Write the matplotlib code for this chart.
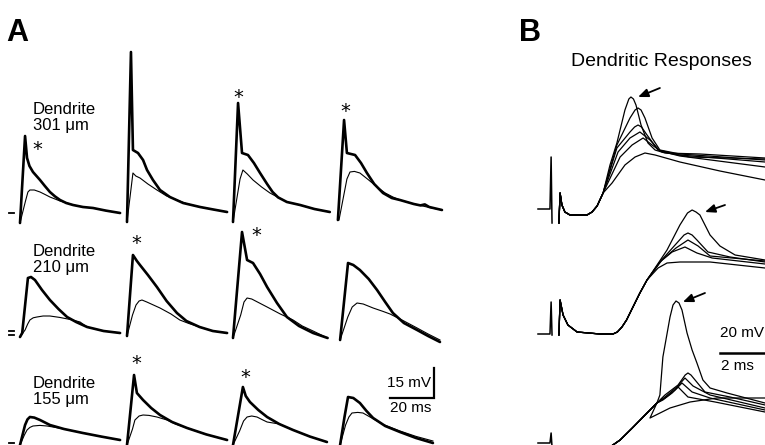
import numpy as np
import matplotlib
matplotlib.use("Agg")
import matplotlib.pyplot as plt

plt.rcParams["font.family"] = ["Liberation Sans", "DejaVu Sans"]

# ---- panel A: dendritic recordings, (ms, mV) relative to stimulus onset / baseline ----
# row 301 um
d301_c1_thick = [(0, -5), (2.3, 38.5), (3.2, 27.5), (4.3, 23.5), (5.9, 20.5), (7.5, 18.5),
                 (9.1, 16.5), (11.3, 13.5), (13.6, 10.5), (15.9, 8.3), (18.2, 6.5),
                 (21, 5), (24.1, 4), (28.6, 3), (33.2, 2.5), (39, 1.2), (45.5, 0)]
d301_c1_thin = [(0, -5), (2.5, 6), (3.6, 10.5), (4.5, 11.5), (6.5, 11.5), (9.1, 10.5),
                (11.3, 9.3), (13.6, 8), (18.2, 6), (21.4, 5), (24.1, 4), (28.6, 3),
                (33.2, 2.5), (39, 1.2), (45.5, 0)]
d301_c2_thick = [(0, -4.5), (1.8, 80.5), (2.7, 31.5), (5, 30), (7.3, 26.5), (9.1, 21.5),
                 (11.8, 16.5), (15, 11.5), (19.5, 8), (25.5, 5), (33.2, 3), (39, 1.8),
                 (45.5, 0.5)]
d301_c2_thin = [(0, -4.5), (2.7, 20), (4, 18.5), (5.9, 17.5), (9.5, 14.5), (13.6, 11.5),
                (18, 8.5), (22.7, 6.5), (27.5, 4.5), (33.2, 3), (39, 1.8), (45.5, 0.5)]
d301_c3_thick = [(0, -4.5), (2.3, 55), (4.1, 30), (6.8, 29), (9.5, 25), (12.3, 20),
                 (15.5, 14.5), (18, 10.5), (20.5, 7.8), (24.5, 5.5), (30.5, 4), (37, 2),
                 (44, 0.5)]
d301_c3_thin = [(0, -4.5), (3.2, 17), (4.5, 21.5), (6.5, 19.5), (9.1, 16.5), (13, 13),
                (16.8, 10), (20.5, 7.8), (24.5, 5.5), (30.5, 4), (37, 2), (44, 0.5)]
d301_c4_thick = [(-0.5, -3.5), (2.3, 46.5), (3.6, 30), (7.3, 29), (10, 25), (12.7, 20),
                 (16, 14.5), (20, 10), (24, 7.5), (27.7, 6.5), (34, 4.5), (37, 3.8),
                 (39, 4.3), (41, 3), (46.8, 1.5)]
d301_c4_thin = [(0, -3.5), (3.6, 17), (5, 20.5), (7, 20.8), (9.5, 20), (13.5, 16.5),
                (17.3, 13), (21, 10), (24.5, 8), (27.7, 6.5), (34, 4.5), (40, 3),
                (46.8, 1.5)]

# row 210 um
d210_c1_thick = [(0, -2), (1, 0), (3.6, 27.5), (5, 28), (6.8, 26.5), (10, 21.5),
                 (13.6, 16.5), (17.5, 12), (21.4, 8), (25.5, 5.5), (30.5, 3), (38, 1),
                 (45.5, 0)]
d210_c1_thin = [(0, -2), (2.3, 1.5), (3.5, 4.5), (4.5, 6.5), (6, 7.6), (7.7, 8),
                (10.5, 8.5), (13.6, 8.5), (18, 7.8), (24, 6.5), (27.3, 5.5), (30.5, 3),
                (38, 1), (45.5, 0)]
d210_c2_thick = [(0, -1.5), (2.7, 39), (4.5, 36), (5.9, 34), (9.5, 29), (13.6, 23),
                 (18, 16), (22.7, 10), (27, 6), (33, 3), (39, 1), (45.5, 0)]
d210_c2_thin = [(0, -1.5), (2.5, 9), (4.1, 14), (5.5, 16), (6.8, 16.5), (9, 15.5),
                (15, 12.5), (20, 9.5), (24, 6.5), (28, 4.8), (33, 3), (39, 1), (45.5, 0)]
d210_c3_thick = [(0, -2.5), (4.1, 50.5), (6.4, 36.5), (9.1, 35), (12.3, 29.5),
                 (15.5, 23), (20, 15), (24.5, 8), (30, 3.5), (36.4, 0), (43, -2.5)]
d210_c3_thin = [(0, -2.5), (3.5, 9), (5, 15.5), (6.4, 17.5), (8.5, 17), (15.5, 13),
                (21.5, 9.5), (27.3, 6.5), (31.5, 3.5), (36.4, 1), (43, -2.5)]
d210_c4_thick = [(0.5, -3.5), (4.1, 35), (6.5, 34), (9.5, 31.5), (13.5, 27), (17.3, 21.5),
                 (21, 15.5), (24.5, 10), (29.5, 5), (35.5, 1.5), (40.5, -1.5),
                 (45.9, -4.5)]
d210_c4_thin = [(0.5, -3.5), (4, 8), (6, 13), (8.2, 15), (11, 14.5), (15.5, 12.5),
                (20, 10.8), (23.2, 9.5), (29.5, 6), (35.5, 2.5), (40.5, -0.5),
                (45.9, -3.5)]

# row 155 um
d155_c1_thick = [(0, -1), (2.3, 9), (3.4, 11.8), (4.5, 13), (6.5, 12.7), (9.1, 11.5),
                 (13.6, 9), (20, 7), (28.6, 5), (37, 3.2), (45.5, 1.5)]
d155_c1_thin = [(0, -1), (2, 4), (3.2, 6.5), (4.5, 7.8), (5.9, 8.5), (9, 8.8),
                (12.3, 8.5), (15, 8), (20, 7), (28.6, 5), (37, 3.2), (45.5, 1.5)]
d155_c2_thick = [(0, -1), (3.2, 34), (4.5, 25), (7.3, 21.5), (11, 17.5), (15, 14),
                 (20.5, 10.5), (27.3, 7.5), (36, 4.3), (45.5, 1.5)]
d155_c2_thin = [(0, -1), (2.5, 7), (3.6, 11.5), (5.5, 13.5), (7.3, 14), (10, 13.8),
                (13.6, 13), (18.2, 11.5), (22, 9.5), (27.3, 7.5), (36, 4.3), (45.5, 1.5)]
d155_c3_thick = [(0, -1), (4.5, 28), (5.8, 23.5), (7.7, 20.5), (11.5, 16.5), (15.5, 13),
                 (21, 9.5), (27.3, 6.5), (35, 3.2), (42.7, 0.5)]
d155_c3_thin = [(0, -1), (3, 6), (4.8, 11), (6.4, 13), (8.5, 13.5), (10.9, 13),
                (13.6, 11.5), (15.5, 10.5), (21, 9.5), (27.3, 6.5), (35, 3.2), (42.7, 0.5)]
d155_c4_thick = [(0.5, -1), (2.5, 13), (4.1, 23), (6.5, 22.5), (9.5, 20), (12.5, 16),
                 (15.5, 12.5), (21, 8.5), (27.7, 5.5), (35, 2.5), (42.7, 0)]
d155_c4_thin = [(0.5, -1), (3, 9), (4.5, 13), (5.9, 15), (8.5, 15.3), (10.9, 15),
                (14.1, 13), (20, 9.3), (27.7, 6), (35, 3.3), (42.7, 1)]

rows_A = [
    [(d301_c1_thick, d301_c1_thin), (d301_c2_thick, d301_c2_thin),
     (d301_c3_thick, d301_c3_thin), (d301_c4_thick, d301_c4_thin)],
    [(d210_c1_thick, d210_c1_thin), (d210_c2_thick, d210_c2_thin),
     (d210_c3_thick, d210_c3_thin), (d210_c4_thick, d210_c4_thin)],
    [(d155_c1_thick, d155_c1_thin), (d155_c2_thick, d155_c2_thin),
     (d155_c3_thick, d155_c3_thin), (d155_c4_thick, d155_c4_thin)],
]
row_labels = ["Dendrite\n301 \u03bcm", "Dendrite\n210 \u03bcm", "Dendrite\n155 \u03bcm"]
# traces with an asterisk (row, col)
star_cells = [(0, 0), (0, 2), (0, 3), (1, 1), (1, 2), (2, 1), (2, 2)]

# ---- panel B: dendritic responses, (ms, mV) ----
g1_stim = [(0, 0), (0.52, 0), (0.57, 26), (0.61, -7)]
g1_lead = [(0.91, -7), (0.96, 8), (1.04, 2), (1.17, -1.5), (1.39, -3), (2.13, -3),
           (2.35, -1.5), (2.57, 1.5), (2.83, 8)]
g1_tails = [
    [(3.13, 22), (3.43, 33), (3.78, 49.5), (3.95, 55), (4.04, 56), (4.15, 55), (4.26, 52),
     (4.48, 42), (4.78, 33), (5.09, 29.5), (5.52, 28), (7.04, 27.5), (9.87, 25.5)],
    [(3.43, 32), (4, 45.5), (4.22, 49.5), (4.35, 50.5), (4.48, 49.5), (4.65, 45.5),
     (4.96, 35.5), (5.3, 29.5), (6.17, 27.5), (9.87, 24.5)],
    [(3.43, 30.5), (4, 38.5), (4.2, 41), (4.35, 42), (4.5, 41), (4.74, 37), (5.22, 29.5),
     (6.17, 27), (9.87, 23.5)],
    [(3.48, 28.5), (4, 35.5), (4.43, 38.5), (4.87, 34.5), (5.3, 29), (6.17, 26.5), (9.87, 21)],
    [(3.57, 26), (4.09, 32), (4.57, 35.5), (4.96, 32), (5.39, 28.5), (6.61, 26), (9.87, 25)],
    [(3.22, 13), (3.78, 22), (4.22, 26), (4.65, 28), (5.09, 27), (6.17, 23.5), (7.91, 19),
     (9.87, 14.5)],
]

g2_stim = [(0, 0), (0.52, 0), (0.57, 16), (0.61, -0.5)]
g2_lead = [(0.91, -0.5), (0.96, 17), (1.09, 9.5), (1.3, 4.5), (1.7, 1), (2.7, 0), (3.26, 0),
           (3.45, 1), (3.65, 3.5), (3.85, 7), (4, 10.5), (4.43, 20.5), (4.74, 27)]
g2_tails = [
    [(5.09, 33), (5.61, 42), (6.17, 54.5), (6.5, 60.5), (6.7, 62), (6.87, 61), (7.04, 59.5),
     (7.48, 49.5), (7.91, 44), (8.57, 39.5), (9.87, 37)],
    [(5.3, 36), (5.96, 44.5), (6.35, 49.5), (6.52, 50.5), (6.7, 49.5), (6.91, 47),
     (7.39, 41), (8.35, 38.5), (9.87, 36)],
    [(5.39, 37), (6, 43), (6.52, 47), (6.96, 44), (7.48, 39), (9.87, 36.5)],
    [(5.3, 36), (5.83, 41), (6.39, 43.5), (6.91, 40.5), (7.57, 38), (9.87, 35)],
    [(5.22, 33), (5.61, 35.5), (6.17, 36), (7.48, 36), (9.87, 33)],
]

g3_stim = [(0, 0), (0.52, 0), (0.57, 5), (0.61, -2)]
g3_lead = [(3.13, -2), (3.57, 1.5), (4.1, 7.5), (4.57, 13), (5.17, 20)]
g3_tails = [
    [(5.3, 24), (5.43, 43), (5.74, 63), (5.87, 69), (6, 71), (6.13, 70), (6.26, 66.5),
     (6.48, 55), (6.7, 46.5), (6.91, 40), (7.17, 31.5), (7.48, 27.5), (8.22, 25), (9.87, 20)],
    [(5.52, 24), (6.09, 29), (6.4, 34), (6.52, 35), (6.65, 34), (6.83, 31.5), (7.26, 25.5),
     (8.35, 23), (9.87, 19)],
    [(5.52, 23), (6.04, 28), (6.39, 32.5), (6.74, 28.5), (7.48, 24), (9.87, 17.5)],
    [(5.52, 22.5), (5.96, 26.5), (6.26, 30), (6.7, 25.5), (7.48, 22.5), (9.87, 16.5)],
    [(5.43, 21.5), (5.83, 25), (6.09, 28), (6.52, 23), (7.7, 20.5), (9.87, 15.5)],
    [(4.87, 12.5), (5.74, 17.5), (6.61, 20.5), (7.78, 22.5), (9.87, 22.5)],
]
groups_B = [(g1_stim, g1_lead, g1_tails), (g2_stim, g2_lead, g2_tails),
            (g3_stim, g3_lead, g3_tails)]
# arrow tip / tail pointing at the biggest response of each group (ms, mV)
arrows_B = [((4.35, 56), (5.3, 60.5)), ((7.26, 61), (8.13, 64.5)), ((6.3, 70.5), (7.26, 75))]

# ---- layout ----
W, H = 765, 445
PX_MS_A, PX_MV = 2.2, 2.0
PX_MS_B = 23.0
col_onset_px = [20, 127, 233, 339]
row_base_px = [213, 333, 443]
group_base_px = [209, 334, 443]
label_top_px = [102, 244, 376]
# asterisk offset from the peak, in (ms, mV)
star_offset = {(0, 0): (5.5, -6.5), (0, 2): (0, 3), (0, 3): (0.5, 4), (1, 1): (1.4, 5.5),
               (1, 2): (6.4, -2), (2, 1): (1, 5.5), (2, 2): (1, 5)}
B_left_px = 520
B_onset_px = 538


def px(x, y):
    return x / W, 1 - y / H


def xy(pts):
    a = np.array(pts, dtype=float)
    return a[:, 0], a[:, 1]


fig = plt.figure(figsize=(W / 100, H / 100), dpi=100)

axA = fig.add_axes([0, 0, 460 / W, 1])
axA.set_xlim(0, 460 / PX_MS_A)
axA.set_ylim(0, H / PX_MV)
axA.axis("off")

for r, row in enumerate(rows_A):
    v0 = (H - row_base_px[r]) / PX_MV
    for c, (thick, thin) in enumerate(row):
        t0 = col_onset_px[c] / PX_MS_A
        t, v = xy(thin)
        axA.plot(t + t0, v + v0, color="black", lw=0.8, solid_joinstyle="round")
        t, v = xy(thick)
        axA.plot(t + t0, v + v0, color="black", lw=1.9, solid_joinstyle="round",
                 solid_capstyle="round")
        if (r, c) in star_cells:
            dx, dy = star_offset[(r, c)]
            axA.text(t0 + t[np.argmax(v)] + dx, v0 + v.max() + dy, "*", ha="center",
                     va="center", fontsize=14, family="DejaVu Sans", color="black")
    # baseline marker(s)
    marks = [0] if r != 1 else [1, -1]
    for m in marks:
        axA.plot([9 / PX_MS_A, 14 / PX_MS_A], [v0 + m, v0 + m], color="black", lw=1.3)
    fig.text(*px(33, label_top_px[r]), row_labels[r], ha="left", va="top", fontsize=12,
             linespacing=1.05)

# A scale bar: 15 mV, 20 ms
sb_t, sb_v = 434 / PX_MS_A, (H - 398) / PX_MV
axA.plot([sb_t - 20, sb_t, sb_t], [sb_v, sb_v, sb_v + 15], color="black", lw=1.6,
         solid_joinstyle="miter")
fig.text(*px(431, 383), "15 mV", ha="right", va="center", fontsize=11)
fig.text(*px(411, 408), "20 ms", ha="center", va="center", fontsize=11)

axB = fig.add_axes([B_left_px / W, 0, (W - B_left_px) / W, 1])
axB.set_xlim(0, (W - B_left_px) / PX_MS_B)
axB.set_ylim(0, H / PX_MV)
axB.axis("off")
tB = (B_onset_px - B_left_px) / PX_MS_B
for g, (stim, lead, tails) in enumerate(groups_B):
    v0 = (H - group_base_px[g]) / PX_MV
    t, v = xy(stim)
    axB.plot(t + tB, v + v0, color="black", lw=1.1)
    for tail in tails:
        t, v = xy(lead + tail)
        axB.plot(t + tB, v + v0, color="black", lw=0.9, solid_joinstyle="round")
    (ht, hv), (tt, tv) = arrows_B[g]
    axB.annotate("", xy=(ht + tB, hv + v0), xytext=(tt + tB, tv + v0),
                 arrowprops=dict(arrowstyle="-|>,head_length=0.6,head_width=0.25",
                                 color="black", lw=1.3, shrinkA=0, shrinkB=0))

# B scale bar: 2 ms
bar_t0 = (720 - B_left_px) / PX_MS_B
bar_v = (H - 353) / PX_MV
axB.plot([bar_t0, bar_t0 + 2], [bar_v, bar_v], color="black", lw=1.8, clip_on=False)
fig.text(*px(720, 333), "20 mV", ha="left", va="center", fontsize=11)
fig.text(*px(737, 366), "2 ms", ha="center", va="center", fontsize=11)

fig.text(*px(661, 62), "Dendritic Responses", ha="center", va="center", fontsize=14)
fig.text(*px(6, 18), "A", ha="left", va="top", fontsize=22, fontweight="bold")
fig.text(*px(519, 18), "B", ha="left", va="top", fontsize=22, fontweight="bold")

fig.savefig("out.png", dpi=100)
